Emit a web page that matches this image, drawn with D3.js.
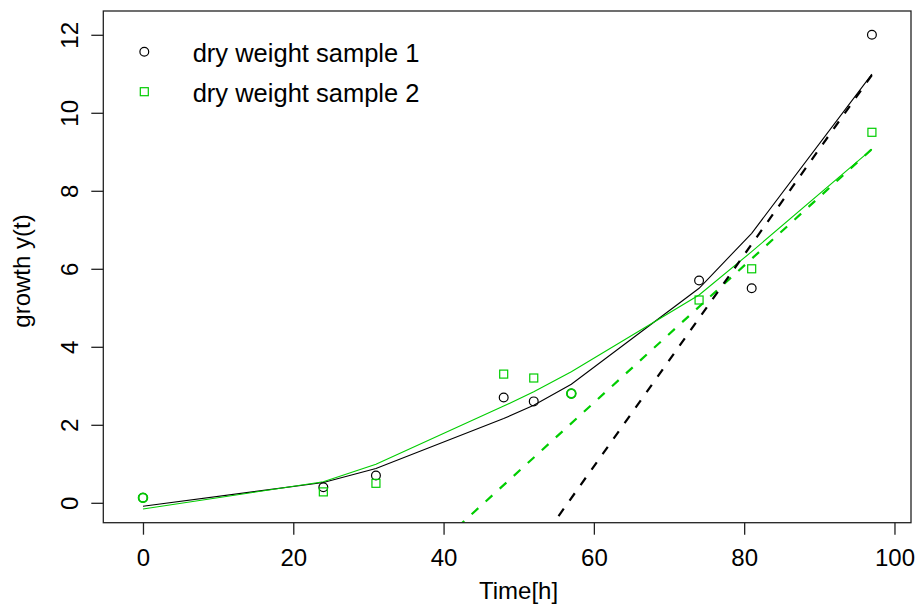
<!DOCTYPE html>
<html>
<head>
  <script src="https://d3js.org/d3.v7.min.js"></script>
  <style>
  html, body {
    margin: 0px;
    background: #fff;
  }
  svg text {
    font-family: "Liberation Sans", Arial, Helvetica, sans-serif;
    fill: #000;
  }
  </style>
</head>
<body>
  <svg id="chart" width="917" height="605"></svg>
  <script>

  // time points (hours)
  var time = [0, 24, 31, 48, 52, 57, 74, 81, 97];

  // measured dry weight
  var sample1 = [0.13, 0.4, 0.7, 2.7, 2.6, 2.8, 5.7, 5.5, 12.0];
  var sample2 = [0.13, 0.28, 0.5, 3.3, 3.2, 2.8, 5.2, 6.0, 9.5];

  // fitted curves
  var fit1 = [-0.09, 0.52, 0.88, 2.16, 2.5, 3.04, 5.5, 6.91, 10.99];
  var fit2 = [-0.16, 0.54, 0.99, 2.48, 2.85, 3.36, 5.33, 6.44, 9.07];

  // tangent lines at the last point: [t, y] end points
  var tangent1 = [[55.3, -0.34], [97, 10.97]];
  var tangent2 = [[40, -0.95], [97, 9.07]];

  var xTicks = [0, 20, 40, 60, 80, 100];
  var yTicks = [0, 2, 4, 6, 8, 10, 12];

  var legendLabels = ["dry weight sample 1", "dry weight sample 2"];

  var green = "#00cd00";

  var svg = d3.select("#chart");

  // plot region (pixels)
  var pLeft = 103.3, pRight = 911, pTop = 11, pBottom = 522.7;

  var x = d3.scaleLinear().domain([-5.28, 102.2]).range([pLeft, pRight]);
  var y = d3.scaleLinear().domain([-0.51, 12.61]).range([pBottom, pTop]);

  svg.append("rect").attr("width", 917).attr("height", 605).attr("fill", "#fff");

  svg.append("defs").append("clipPath").attr("id", "plotclip")
    .append("rect")
      .attr("x", pLeft).attr("y", pTop)
      .attr("width", pRight - pLeft).attr("height", pBottom - pTop);

  var plot = svg.append("g").attr("clip-path", "url(#plotclip)");

  // fitted curves
  var line = d3.line()
    .x(function(d) { return x(d[0]); })
    .y(function(d) { return y(d[1]); });

  plot.append("path")
    .datum(d3.zip(time, fit1))
    .attr("d", line)
    .attr("fill", "none")
    .attr("stroke", "#000")
    .attr("stroke-width", 1.1);

  plot.append("path")
    .datum(d3.zip(time, fit2))
    .attr("d", line)
    .attr("fill", "none")
    .attr("stroke", green)
    .attr("stroke-width", 1.1);

  // tangents (dashed)
  plot.append("path")
    .datum(tangent2)
    .attr("d", line)
    .attr("fill", "none")
    .attr("stroke", green)
    .attr("stroke-width", 2.2)
    .attr("stroke-dasharray", "9,10");

  plot.append("path")
    .datum(tangent1)
    .attr("d", line)
    .attr("fill", "none")
    .attr("stroke", "#000")
    .attr("stroke-width", 2.2)
    .attr("stroke-dasharray", "9,10");

  // sample 1 points (circles)
  svg.append("g").selectAll("circle")
    .data(d3.zip(time, sample1))
    .enter().append("circle")
      .attr("cx", function(d) { return x(d[0]); })
      .attr("cy", function(d) { return y(d[1]); })
      .attr("r", 4.4)
      .attr("fill", "none")
      .attr("stroke", "#000")
      .attr("stroke-width", 1.2);

  // sample 2 points: squares, or a green circle where it equals sample 1
  var pts2 = time.map(function(t, i) { return {t: t, v: sample2[i], same: sample2[i] === sample1[i]}; });

  svg.append("g").selectAll("rect")
    .data(pts2.filter(function(d) { return !d.same; }))
    .enter().append("rect")
      .attr("x", function(d) { return x(d.t) - 4; })
      .attr("y", function(d) { return y(d.v) - 4; })
      .attr("width", 8)
      .attr("height", 8)
      .attr("fill", "none")
      .attr("stroke", green)
      .attr("stroke-width", 1.2);

  svg.append("g").selectAll("circle")
    .data(pts2.filter(function(d) { return d.same; }))
    .enter().append("circle")
      .attr("cx", function(d) { return x(d.t); })
      .attr("cy", function(d) { return y(d.v); })
      .attr("r", 4.4)
      .attr("fill", "none")
      .attr("stroke", green)
      .attr("stroke-width", 1.8);

  // box
  svg.append("rect")
    .attr("x", pLeft).attr("y", pTop)
    .attr("width", pRight - pLeft).attr("height", pBottom - pTop)
    .attr("fill", "none")
    .attr("stroke", "#222")
    .attr("stroke-width", 1.3);

  // axes
  var xAxis = svg.append("g")
    .attr("transform", "translate(0," + pBottom + ")")
    .call(d3.axisBottom(x).tickValues(xTicks).tickSize(12).tickFormat(d3.format("d")));
  xAxis.select(".domain").remove();
  xAxis.selectAll("line").attr("stroke", "#222").attr("stroke-width", 1.3);
  xAxis.selectAll("text")
    .attr("y", 43).attr("dy", 0)
    .style("font-size", "24px");

  var yAxis = svg.append("g")
    .attr("transform", "translate(" + pLeft + ",0)")
    .call(d3.axisLeft(y).tickValues(yTicks).tickSize(12).tickFormat(d3.format("d")));
  yAxis.select(".domain").remove();
  yAxis.selectAll("line").attr("stroke", "#222").attr("stroke-width", 1.3);
  yAxis.selectAll("text")
    .attr("x", 0).attr("dy", 0)
    .attr("text-anchor", "middle")
    .attr("transform", "translate(-25,0) rotate(-90)")
    .style("font-size", "24px");

  // axis titles
  svg.append("text")
    .attr("x", 518.5).attr("y", 599)
    .attr("text-anchor", "middle")
    .style("font-size", "24px")
    .text("Time[h]");

  svg.append("text")
    .attr("transform", "translate(29.5,271) rotate(-90)")
    .attr("text-anchor", "middle")
    .style("font-size", "24px")
    .text("growth y(t)");

  // legend
  var legend = svg.append("g");
  legend.append("circle")
    .attr("cx", 144.3).attr("cy", 51.7).attr("r", 4.4)
    .attr("fill", "none").attr("stroke", "#000").attr("stroke-width", 1.2);
  legend.append("rect")
    .attr("x", 140.3).attr("y", 87.7).attr("width", 8).attr("height", 8)
    .attr("fill", "none").attr("stroke", green).attr("stroke-width", 1.2);
  legend.selectAll("text")
    .data(legendLabels)
    .enter().append("text")
      .attr("x", 192.7)
      .attr("y", function(d, i) { return 61.7 + i * 40; })
      .style("font-size", "25.5px")
      .text(function(d) { return d; });

  </script>
</body>
</html>
